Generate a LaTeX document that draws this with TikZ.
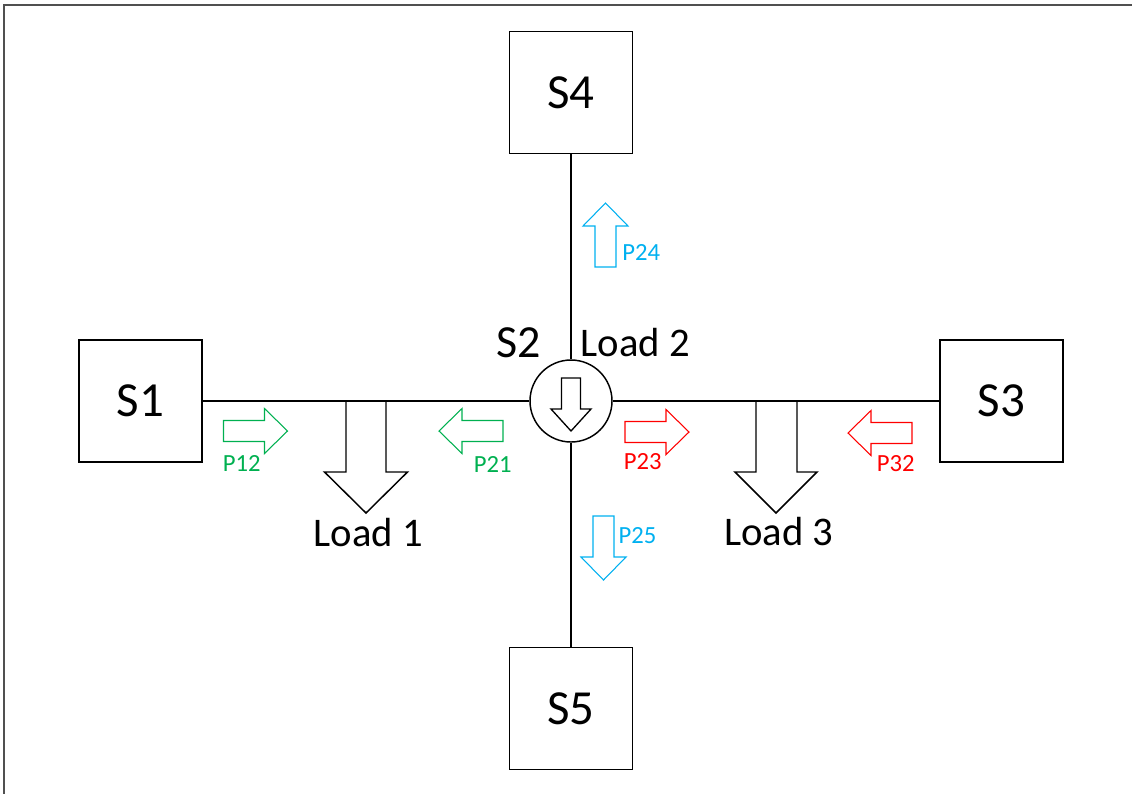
\documentclass[tikz,border=0pt]{standalone}
\usepackage{fontspec}
\setmainfont{Carlito}
\definecolor{pgreen}{RGB}{0,176,80}
\definecolor{pred}{RGB}{255,0,0}
\definecolor{pblue}{RGB}{0,176,240}
\definecolor{framegray}{RGB}{80,80,80}
\tikzset{
  wire/.style={draw=black, line width=1.1pt},
  station/.style={draw=black, line width=1.1pt, minimum width=92.25pt, minimum height=91.5pt,
                  inner sep=0pt, font=\fontsize{36.75pt}{40pt}\selectfont},
  hub/.style={draw=black, line width=1.1pt, circle, minimum size=61.5pt, inner sep=0pt},
  loadarrow/.style={draw=black, line width=1.1pt},
  bigtext/.style={anchor=base, inner sep=0pt, font=\fontsize{34.5pt}{38pt}\selectfont},
  loadtext/.style={anchor=base, inner sep=0pt, font=\fontsize{30.5pt}{34pt}\selectfont},
  flowtext/.style={anchor=base, inner sep=0pt, font=\fontsize{18.5pt}{21pt}\selectfont},
  flowarrow/.pic={
    \path[pic actions] (0,-10.5) -- (41,-10.5) -- (41,-22.5) -- (64,0)
      -- (41,22.5) -- (41,10.5) -- (0,10.5) -- cycle;
  },
}
\begin{document}
\begin{tikzpicture}[x=0.75pt, y=-0.75pt]
\useasboundingbox (0,0) rectangle (1132,794);

% open frame: top and left edges
\draw[framegray, line width=1.2pt] (1132,5) -- (4,5) -- (4,794);

% stations and central bus node
\node[station] (s1) at (140.5,401) {S1};
\node[station] (s3) at (1001.5,401) {S3};
\node[station] (s4) at (571,92.5) {S4};
\node[station] (s5) at (571,708.5) {S5};
\node[hub] (s2) at (571,401) {};

% lines
\draw[wire] (s1) -- (s2);
\draw[wire] (s2) -- (s3);
\draw[wire] (s4) -- (s2);
\draw[wire] (s2) -- (s5);

% load inside S2
\draw[black, line width=1pt] (561.5,378) -- (580.5,378) -- (580.5,409) -- (591,409)
  -- (571,431) -- (551,409) -- (561.5,409) -- cycle;

% load 1 and load 3 arrows hanging from the bus
\draw[loadarrow] (346,401) -- (346,472) -- (324.5,472) -- (366,513) -- (407.5,472)
  -- (386,472) -- (386,401);
\draw[loadarrow] (756,401) -- (756,472) -- (735,472) -- (776,513) -- (817,472)
  -- (797,472) -- (797,401);

% labels
\node[bigtext] (s2lab) at (519,357.5) {S2};
\node[loadtext] (load2) at (635.5,356.5) {Load 2};
\node[loadtext] (load1) at (368.5,546) {Load 1};
\node[loadtext] (load3) at (779,545.5) {Load 3};

% power flow arrows
\pic[draw=pgreen, line width=0.8pt] at (223.5,431) {flowarrow};
\pic[draw=pgreen, line width=0.8pt, rotate=180] at (503,431) {flowarrow};
\pic[draw=pred, line width=0.8pt] at (625,432) {flowarrow};
\pic[draw=pred, line width=0.8pt, rotate=180] at (912,433) {flowarrow};
\pic[draw=pblue, line width=0.8pt, rotate=90] at (605.5,267) {flowarrow};
\pic[draw=pblue, line width=0.8pt, rotate=-90] at (603.5,516) {flowarrow};

\node[flowtext, text=pgreen] (p12) at (241.7,471) {P12};
\node[flowtext, text=pgreen] (p21) at (492.8,472.5) {P21};
\node[flowtext, text=pred] (p23) at (642.8,469.5) {P23};
\node[flowtext, text=pred] (p32) at (895.7,471.5) {P32};
\node[flowtext, text=pblue] (p24) at (641.3,260) {P24};
\node[flowtext, text=pblue] (p25) at (637.5,543.3) {P25};
\end{tikzpicture}
\end{document}
